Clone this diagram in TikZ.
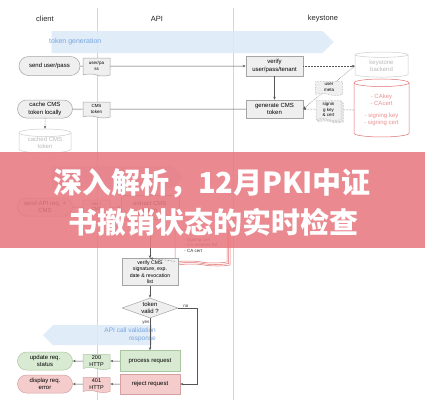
\documentclass[tikz,border=0pt]{standalone}
\usepackage{fontspec}
\setmainfont{Liberation Sans}
\newfontfamily\cjk{Noto Sans CJK SC}
\usepackage{tikz}
\usetikzlibrary{arrows.meta,positioning,shapes.geometric,shapes.symbols,shapes.arrows,shapes.misc,shadows}
\usepackage{xcolor}
\definecolor{cLane}{RGB}{212,212,212}
\definecolor{cEdge}{RGB}{85,85,85}
\definecolor{cBoxFill}{RGB}{239,239,239}
\definecolor{cBoxLine}{RGB}{165,165,165}
\definecolor{cBand}{RGB}{221,234,248}
\definecolor{cBandTxt}{RGB}{120,165,222}
\definecolor{cOkFill}{RGB}{217,234,211}
\definecolor{cOkLine}{RGB}{170,198,160}
\definecolor{cErrFill}{RGB}{244,204,204}
\definecolor{cErrLine}{RGB}{214,160,160}
\definecolor{cRedLine}{RGB}{226,112,112}
\definecolor{cRedTxt}{RGB}{232,145,145}
\definecolor{cFaint}{RGB}{205,205,205}
\definecolor{cFaintTxt}{RGB}{185,185,185}
\definecolor{cOver}{RGB}{232,121,128}
\newcommand{\lanefont}{\fontsize{7.5}{9}\selectfont}
\newcommand{\boxfont}{\fontsize{6}{7.2}\selectfont}
\newcommand{\smallfont}{\fontsize{5.2}{6.4}\selectfont}
\newcommand{\docfont}{\fontsize{4.5}{5.4}\selectfont}
\newcommand{\bandfont}{\fontsize{7}{8.2}\selectfont}
\tikzset{
	lane/.style={draw=cLane, line width=0.6pt},
	lanelbl/.style={font=\lanefont, text=black!85, inner sep=0pt},
	band/.style={single arrow, single arrow head extend=0pt,
		single arrow tip angle=90, fill=cBand, draw=none,
		minimum width=22pt, inner sep=0pt, opacity=0.9},
	bandlbl/.style={font=\bandfont, text=cBandTxt, inner sep=0pt},
	pill/.style={rounded rectangle, draw=cBoxLine, fill=cBoxFill,
		line width=0.5pt, font=\boxfont, align=center, inner sep=0pt,
		minimum width=55pt, minimum height=18pt},
	pbox/.style={rectangle, draw=cBoxLine, fill=cBoxFill, line width=0.5pt,
		font=\boxfont, align=center, inner sep=0pt,
		minimum width=57pt, minimum height=19pt},
	docnode/.style={tape, tape bend top=none, tape bend bottom=out and in,
		tape bend height=2pt, draw=cBoxLine, fill=cBoxFill, line width=0.5pt,
		font=\docfont, align=center, inner sep=0pt,
		minimum width=27pt, minimum height=16pt},
	dbnode/.style={cylinder, shape border rotate=90, aspect=0.22,
		draw=cFaint, fill=white, line width=0.5pt, font=\boxfont,
		text=cFaintTxt, align=center, inner sep=0pt},
	decision/.style={diamond, aspect=2.8, draw=cBoxLine, fill=cBoxFill,
		line width=0.5pt, font=\boxfont, align=center, inner sep=0pt,
		minimum width=56pt, minimum height=20pt},
	okfill/.style={fill=cOkFill, draw=cOkLine},
	errfill/.style={fill=cErrFill, draw=cErrLine},
	hline/.style={line width=0.5pt, draw=cEdge},
	harr/.style={-{Stealth[length=3pt,width=2.4pt]}, line width=0.5pt,
		draw=cEdge},
	dotarr/.style={harr, densely dotted},
	lbl/.style={font=\docfont, text=black!80, inner sep=0.5pt},
	bigtitle/.style={font=\cjk\bfseries\fontsize{29}{33}\selectfont,
		text=white, inner sep=0pt},
}

\begin{document}
\begin{tikzpicture}[x=1pt,y=-1pt]
	\useasboundingbox[fill=white] (0,0) rectangle (425,400);

	% swim lanes
	\draw[lane] (97,8)  -- (97,400);
	\draw[lane] (233,8) -- (233,400);
	\node[lanelbl] at (45,19)  (client)   {client};
	\node[lanelbl] at (157,19) (api)      {API};
	\node[lanelbl] at (323,19) (keystone) {keystone};

	% section bands
	\node[band, minimum height=282pt] at (187,42) (genband) {};
	\node[bandlbl, anchor=west] at (49,42) (genlbl) {token generation};
	\node[band, minimum height=132pt] at (112,177) (callband) {};
	\node[band, shape border rotate=180, minimum height=109pt, minimum width=20pt] at (102.5,335) (respband) {};
	\node[bandlbl, font=\fontsize{6.5}{7.8}\selectfont, align=right, anchor=east] at (156,335) (resplbl) {API call validation\\response};

	% token generation row (y=66)
	\node[pill, minimum width=61pt, minimum height=19pt] at (49.5,66) (sendpass) {send user/pass};
	\node[docnode, minimum height=18pt] at (96.5,66) (passdoc)  {user/pa\\ss};
	\node[pbox, minimum height=20pt]    at (274.5,66) (verify)  {verify\\user/pass/tenant};
	\node[dbnode, minimum width=53pt, minimum height=25pt] at (381.5,66) (backend) {keystone\\backend};

	% token return row (y=109)
	\node[pill]    at (45,109)    (cache)    {cache CMS\\token locally};
	\node[docnode] at (96.5,109)  (cmsdoc)   {CMS\\token};
	\node[pbox, minimum height=18pt] at (274.5,109) (generate) {generate CMS\\token};
	\node[dbnode, draw=cRedLine, text=cRedTxt, minimum width=55pt, minimum height=58pt] at (381.5,110) (cadb) {- CAkey\\- CAcert\\[5pt]- signing key\\- signing cert};
	\node[dbnode, minimum width=52pt, minimum height=24pt] at (45,143) (cached) {cached CMS\\token};

	% API call row (y=207)
	\node[pill]    at (45,207)   (apireq)  {send API req. +\\CMS};
	\node[docnode] at (96.5,207) (reqdoc)  {req +\\CMS};
	\node[pbox, minimum width=58pt, minimum height=24pt] at (150,207) (extract) {extract CMS\\token};
	\node[docnode, draw=cRedLine, fill=white, text=black!80, align=left, minimum width=52pt, minimum height=34pt,
		double copy shadow={shadow xshift=1.5pt, shadow yshift=-1.5pt}] at (201,245) (reddoc) {- signing cert\\- CA revoked list\\- CA cert};

	% validation
	\node[pbox, font=\smallfont, minimum width=56pt, minimum height=27pt] at (150,272) (verifycms) {verify CMS\\signature, exp.\\date \& revocation\\list};
	\node[decision] at (150,308) (valid) {token\\valid ?};
	\coordinate (noturn) at (197,384);

	% response rows
	\node[pbox, okfill, minimum width=60pt, minimum height=21pt]  at (150,361) (process) {process request};
	\node[pbox, errfill, minimum width=60pt, minimum height=20pt] at (150,384) (reject)  {reject request};
	\node[docnode, okfill, minimum height=15pt, font=\fontsize{5.5}{6.4}\selectfont]  at (96.5,361) (okdoc)  {200\\HTTP};
	\node[docnode, errfill, minimum height=15pt, font=\fontsize{5.5}{6.4}\selectfont] at (96.5,384) (errdoc) {401\\HTTP};
	\node[pill, okfill]  at (45,361) (update)  {update req.\\status};
	\node[pill, errfill] at (45,384) (display) {display req.\\error};

	% token generation arrows
	\draw[hline]  (sendpass) -- (passdoc);
	\draw[harr]   (passdoc)  -- (verify);
	\draw[dotarr] (verify)   -- (backend);
	\draw[harr]   (verify)   -- (generate);
	\draw[dotarr] (backend.west) -- node[docnode, minimum height=14pt] (metadoc) {user\\meta} (generate.east);
	\draw[dotarr] (cadb.west) -- node[docnode, minimum width=25pt, minimum height=20pt,
		double copy shadow={shadow xshift=1.2pt, shadow yshift=-1.2pt}] (signdoc) {signin\\g key\\\& cert} (generate.east);
	\draw[hline]  (generate) -- (cmsdoc);
	\draw[hline]  (cmsdoc)   -- (cache);
	\draw[dotarr] (cache)    -- (cached);

	% API call arrows
	\draw[hline]  (apireq)  -- (reqdoc);
	\draw[harr]   (reqdoc)  -- (extract);
	\draw[harr]   (extract) -- (verifycms);
	\draw[dotarr] (reddoc.south west) -- (verifycms.north);
	\draw[harr]   (verifycms) -- (valid);
	\draw[harr]   (valid) -- node[lbl, pos=0.15, left] {yes} (process);
	\draw[harr]   (valid.east) -| node[lbl, pos=0.2, above] {no} (noturn) -- (reject.east);

	% response arrows
	\draw[harr] (process) -- (okdoc);
	\draw[harr] (okdoc)   -- (update);
	\draw[harr] (reject)  -- (errdoc);
	\draw[harr] (errdoc)  -- (display);

	% title overlay
	\fill[cOver, opacity=0.88] (0,152) rectangle (425,248);
	\node[bigtitle] at (212,183) (title1) {深入解析，12月PKI中证};
	\node[bigtitle] at (213,222) (title2) {书撤销状态的实时检查};
\end{tikzpicture}
\end{document}
